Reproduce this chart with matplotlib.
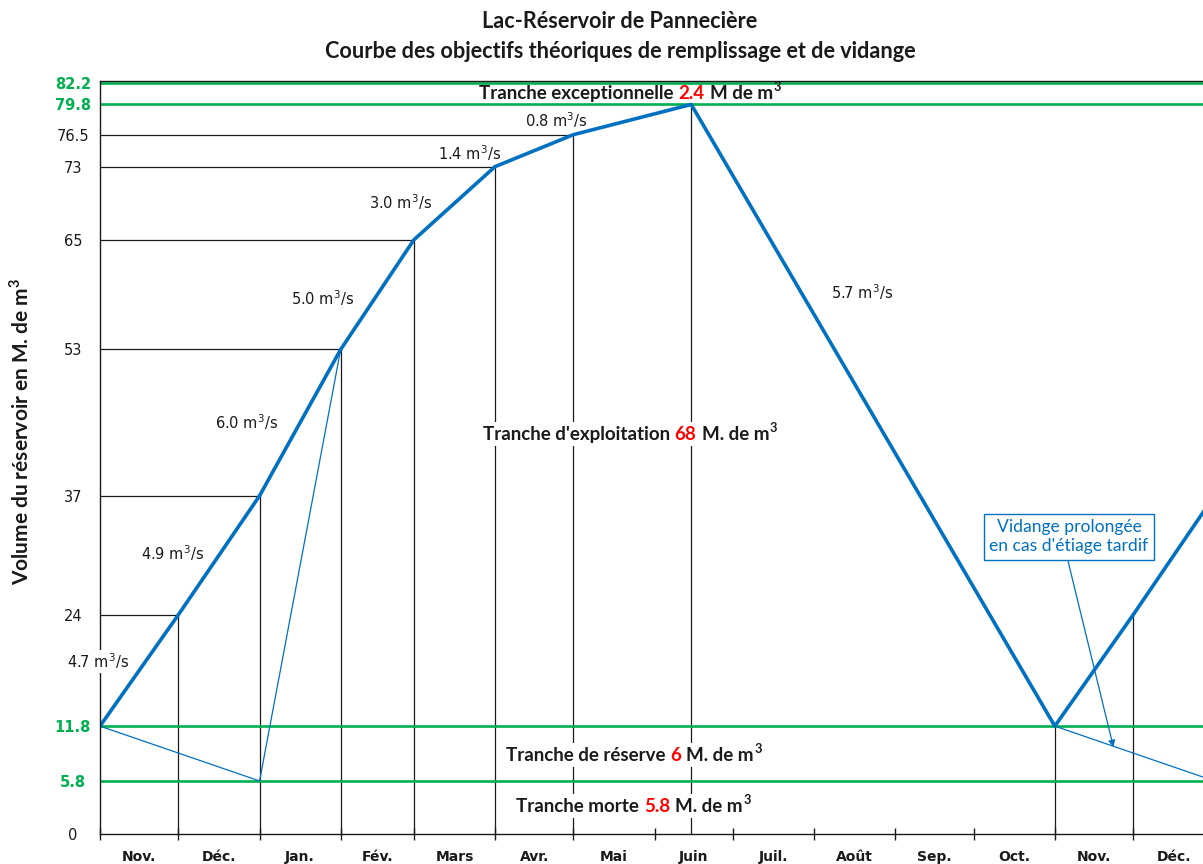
import matplotlib
matplotlib.use('Agg')
import matplotlib.pyplot as plt
import numpy as np

# ---------------- data ----------------
months = ['Nov.', 'Déc.', 'Jan.', 'Fév.', 'Mars', 'Avr.', 'Mai', 'Juin',
          'Juil.', 'Août', 'Sep.', 'Oct.', 'Nov.', 'Déc.']
month_days = [30, 31, 31, 28, 31, 30, 31, 30, 31, 31, 30, 31, 30, 31]

# objective curve (day counted from 1st November, volume in M m3)
curve_day = [0, 30, 61, 92, 120, 151, 181, 226, 365, 395, 426]
curve_vol = [11.8, 24, 37, 53, 65, 73, 76.5, 79.8, 11.8, 24, 37]

# extended drawdown (thin lines)
low_day = [0, 61, 92]
low_vol = [11.8, 5.8, 53]
late_day = [365, 426]
late_vol = [11.8, 5.8]

green_levels = [5.8, 11.8, 79.8, 82.2]
ytick_vals = [0, 5.8, 11.8, 24, 37, 53, 65, 73, 76.5, 79.8, 82.2]
ytick_labels = ['0', '5.8', '11.8', '24', '37', '53', '65', '73', '76.5', '79.8', '82.2']

rates = ['4.7', '4.9', '6.0', '5.0', '3.0', '1.4', '0.8', '5.7']
rate_pos = [(-0.8, 18.9), (27.9, 30.7), (56.2, 45.0), (85.2, 58.6),
            (115.1, 69.1), (141.1, 74.5), (174.3, 78.1), (291.3, 59.3)]

tranche_names = ['Tranche exceptionnelle', "Tranche d'exploitation",
                 'Tranche de réserve', 'Tranche morte']
tranche_vols = ['2.4', '68', '6', '5.8']
tranche_units = ['M de m', 'M. de m', 'M. de m', 'M. de m']

# ---------------- style ----------------
BLUE = '#0070C0'
GREEN = '#00B050'
RED = '#FF0000'
INK = '#1a1a1a'
TF = ['Lato', 'DejaVu Sans']
plt.rcParams['font.family'] = ['DejaVu Sans']
plt.rcParams['mathtext.fontset'] = 'custom'
plt.rcParams['mathtext.rm'] = 'DejaVu Sans'
plt.rcParams['mathtext.it'] = 'DejaVu Sans:italic'
plt.rcParams['mathtext.bf'] = 'Lato:bold'

W, H = 1203, 864
fig = plt.figure(figsize=(W / 100, H / 100), dpi=100)
PXD = 2.616            # pixels per day
ax_w = (W - 100)
ax_h = 753.3
ax = fig.add_axes([100 / W, 30 / H, ax_w / W, ax_h / H])
ax.set_xlim(0, ax_w / PXD)
ax.set_ylim(0, 82.4)

bounds = np.concatenate([[0], np.cumsum(month_days)])
centers = (bounds[:-1] + bounds[1:]) / 2

for lv in green_levels:
    ax.axhline(lv, color=GREEN, lw=1.9, zorder=2)

for d, v in zip(curve_day[1:7], curve_vol[1:7]):
    ax.plot([0, d], [v, v], color=INK, lw=0.9, zorder=1.5)
for d, v in zip(curve_day[1:10], curve_vol[1:10]):
    ax.plot([d, d], [0, v], color=INK, lw=0.9, zorder=1.5)

ax.plot(low_day, low_vol, color=BLUE, lw=0.9, zorder=2.2)
ax.plot(late_day, late_vol, color=BLUE, lw=0.9, zorder=2.2)
ax.plot(curve_day, curve_vol, color=BLUE, lw=2.6, zorder=2.4)

ax.spines['right'].set_visible(False)
for s in ['top', 'left', 'bottom']:
    ax.spines[s].set_color(INK)
    ax.spines[s].set_linewidth(1.0)

ax.set_xticks(bounds[bounds <= ax_w / PXD])
ax.set_xticklabels([])
ax.tick_params(axis='x', direction='inout', length=9, width=1, color=INK)
for c, m in zip(centers, months):
    ax.annotate(m, xy=(c, 0), xycoords=('data', 'axes fraction'),
                xytext=(0, -11.2), textcoords='offset points',
                ha='center', va='top', fontsize=10, fontweight='bold', color=INK,
                annotation_clip=False)

ax.set_yticks(ytick_vals)
ax.set_yticklabels(ytick_labels)
ax.tick_params(axis='y', length=0, pad=19.5)
for lab, val in zip(ax.get_yticklabels(), ytick_vals):
    lab.set_ha('center')
    lab.set_fontsize(10.5)
    if val in green_levels:
        lab.set_color(GREEN)
        lab.set_fontweight('bold')
    else:
        lab.set_color(INK)

for r, (d, v) in zip(rates, rate_pos):
    kw = {}
    if r == '4.7':
        kw['bbox'] = dict(fc='white', ec='none', pad=1.0)
    ax.text(d, v, f'{r} m$^3$/s', ha='center', va='center', fontsize=10.5,
            color=INK, zorder=4, **kw)

# multi-coloured bold labels (placed on a common baseline)
rich_groups = []


def rich(x, y, parts, size, bg):
    # parts: (text, colour, is_superscript)
    arts = []
    for s, c, sup in parts:
        kw = dict(fontsize=size * (0.68 if sup else 1.0), fontweight='bold',
                  family=TF, zorder=4.5 if sup else 4, ha='left', va='baseline', color=c)
        if bg and not sup:
            kw['bbox'] = dict(fc='white', ec='none', pad=2.5)
        arts.append((ax.text(x, y, s, **kw), sup))
    rich_groups.append((x, y, size, arts))


tranche_pos = [(202.6, 80.4), (202.6, 43.15), (204.1, 8.0), (204.1, 2.45)]
for name, vol, unit, (x, y) in zip(tranche_names, tranche_vols, tranche_units, tranche_pos):
    rich(x, y, [(name, INK, False), (vol, RED, False), (unit, INK, False), ('3', INK, True)],
         13.5, bg=(y < 70))

# annotation box + arrow
ax.text(370.4, 32.5, "Vidange prolongée\nen cas d'étiage tardif", ha='center', va='center',
        color=BLUE, fontsize=12.6, family=TF, linespacing=1.22, zorder=5,
        bbox=dict(boxstyle='square,pad=0.3', fc='white', ec=BLUE, lw=1))
ax.annotate('', xy=(387.4, 9.5), xytext=(370.0, 29.9),
            arrowprops=dict(arrowstyle='-|>', color=BLUE, lw=0.9, mutation_scale=10,
                            shrinkA=0, shrinkB=0), zorder=4)

fig.text(620 / W, 1 - 21 / H, 'Lac-Réservoir de Pannecière', ha='center', va='center',
         fontsize=15.6, fontweight='bold', family=TF, color=INK)
fig.text(620 / W, 1 - 51 / H, 'Courbe des objectifs théoriques de remplissage et de vidange',
         ha='center', va='center', fontsize=15.6, fontweight='bold', family=TF, color=INK)
fig.text(21 / W, 1 - 431 / H, r'Volume du réservoir en M. de m$^{\mathbf{3}}$', rotation=90,
         ha='center', va='center', fontsize=15, fontweight='bold', family=TF, color=INK)

# lay out and centre the rich label groups
fig.canvas.draw()
r = fig.canvas.get_renderer()
inv = ax.transData.inverted()
for x, y, size, arts in rich_groups:
    gap = 0.27 * size * fig.dpi / 72.0
    widths = [a.get_window_extent(r).width for a, _ in arts]
    gaps = [0.0] + [(1.0 if sup else gap) for _, sup in arts[1:]]
    total = sum(widths) + sum(gaps)
    cx, cy = ax.transData.transform((x, y))
    px = cx - total / 2
    raise_px = 0.40 * size * fig.dpi / 72.0
    for (a, sup), w, g in zip(arts, widths, gaps):
        px += g
        nx, ny = inv.transform((px, cy + (raise_px if sup else 0.0)))
        a.set_position((nx, ny))
        px += w

fig.savefig('out.png', dpi=100)
